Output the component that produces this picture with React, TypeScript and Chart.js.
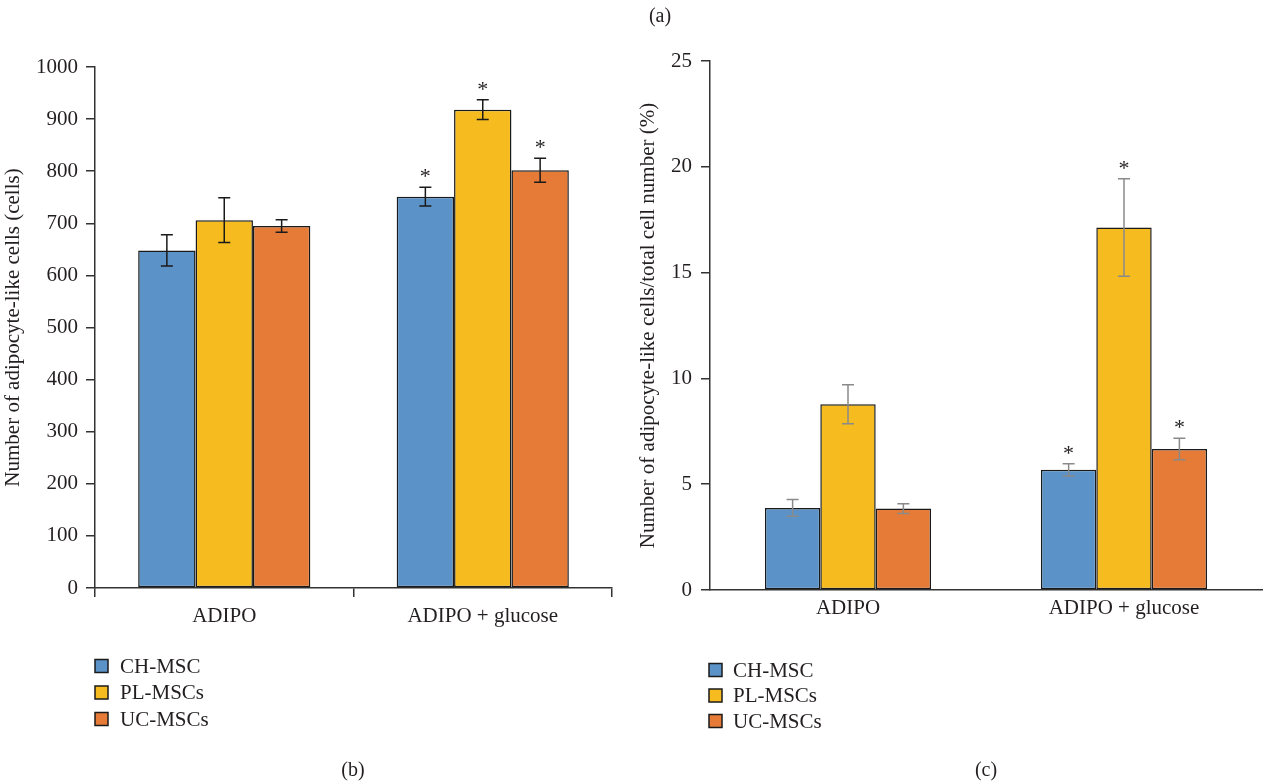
import React, { useEffect, useRef } from 'react';
import { Chart, registerables } from 'chart.js';

Chart.register(...registerables);

// ---------- data ----------
const categories = ['ADIPO', 'ADIPO + glucose'];
const seriesLabels = ['CH-MSC', 'PL-MSCs', 'UC-MSCs'];
const seriesColors = ['#5b93c9', '#f5bb1f', '#e57b37'];

// (b) number of adipocyte-like cells
const countCH = [648, 751];
const countPL = [706, 918];
const countUC = [695, 802];
const countErrCH = [30, 18];
const countErrPL = [43, 19];
const countErrUC = [12, 23];
const countSigCH = [false, true];
const countSigPL = [false, true];
const countSigUC = [false, true];

// (c) percentage of adipocyte-like cells
const pctCH = [3.88, 5.68];
const pctPL = [8.78, 17.13];
const pctUC = [3.85, 6.66];
const pctErrCH = [0.4, 0.29];
const pctErrPL = [0.92, 2.3];
const pctErrUC = [0.23, 0.51];
const pctSigCH = [false, true];
const pctSigPL = [false, true];
const pctSigUC = [false, true];

const countTitle = 'Number of adipocyte-like cells (cells)';
const pctTitle = 'Number of adipocyte-like cells/total cell number (%)';
const panelTexts = ['(a)', '(b)', '(c)'];

const FONT = '"Liberation Serif", "Times New Roman", serif';
const TEXT = '#231f20';
const AXIS = '#333333';

const errorBarPlugin = {
  id: 'errorBars',
  afterDatasetsDraw(chart: any, _args: any, opts: any) {
    const { ctx } = chart;
    const yScale = chart.scales.y;
    chart.data.datasets.forEach((ds: any, di: number) => {
      const meta = chart.getDatasetMeta(di);
      meta.data.forEach((bar: any, i: number) => {
        const v = ds.data[i];
        const e = ds.errors[i];
        const x = bar.x;
        const yt = yScale.getPixelForValue(v + e);
        const yb = yScale.getPixelForValue(v - e);
        ctx.save();
        ctx.strokeStyle = opts.color;
        ctx.lineWidth = opts.lineWidth;
        ctx.beginPath();
        ctx.moveTo(x, yt);
        ctx.lineTo(x, yb);
        ctx.moveTo(x - opts.cap, yt);
        ctx.lineTo(x + opts.cap, yt);
        ctx.moveTo(x - opts.cap, yb);
        ctx.lineTo(x + opts.cap, yb);
        ctx.stroke();
        if (ds.sig[i]) {
          ctx.fillStyle = TEXT;
          ctx.font = `22px ${FONT}`;
          ctx.textAlign = 'center';
          ctx.textBaseline = 'alphabetic';
          ctx.fillText('*', x, yt - opts.starGap);
        }
        ctx.restore();
      });
    });
  },
};

const boxLegendPlugin = {
  id: 'boxLegend',
  afterDraw(chart: any, _args: any, opts: any) {
    const { ctx } = chart;
    chart.data.datasets.forEach((ds: any, i: number) => {
      const cy = opts.y + i * opts.rowGap;
      ctx.save();
      ctx.fillStyle = ds.backgroundColor;
      ctx.strokeStyle = '#1a1a1a';
      ctx.lineWidth = 1.5;
      ctx.fillRect(opts.x, cy - opts.box / 2, opts.box, opts.box);
      ctx.strokeRect(opts.x, cy - opts.box / 2, opts.box, opts.box);
      ctx.fillStyle = TEXT;
      ctx.font = `21px ${FONT}`;
      ctx.textAlign = 'left';
      ctx.textBaseline = 'middle';
      ctx.fillText(ds.label, opts.textX, cy + 1);
      ctx.restore();
    });
  },
};

function makeDatasets(values: number[][], errs: number[][], sigs: boolean[][], borderColor: string) {
  return values.map((v, i) => ({
    label: seriesLabels[i],
    data: v,
    errors: errs[i],
    sig: sigs[i],
    backgroundColor: seriesColors[i],
    borderColor,
    borderWidth: 1.5,
    borderSkipped: false as any,
  }));
}

const plainTick = (v: any) => String(v);

function CountChart() {
  const ref = useRef<HTMLCanvasElement>(null);
  useEffect(() => {
    const chart = new Chart(ref.current!, {
      type: 'bar',
      data: {
        labels: categories,
        datasets: makeDatasets(
          [countCH, countPL, countUC],
          [countErrCH, countErrPL, countErrUC],
          [countSigCH, countSigPL, countSigUC],
          '#1a1a1a'
        ) as any,
      },
      options: {
        animation: false,
        responsive: false,
        devicePixelRatio: 1,
        layout: { padding: { left: 0, right: 20, top: 67, bottom: 156 } },
        datasets: { bar: { barPercentage: 1, categoryPercentage: 0.666 } },
        plugins: {
          legend: { display: false },
          tooltip: { enabled: false },
          errorBars: { color: '#1a1a1a', lineWidth: 1.5, cap: 6, starGap: 4 },
          boxLegend: { x: 95, y: 666, rowGap: 26.5, box: 13, textX: 120 },
        } as any,
        scales: {
          x: {
            afterFit: (s: any) => { s.height = 40; },
            grid: { offset: true, drawOnChartArea: false, color: AXIS, lineWidth: 1.5, tickLength: 9 },
            border: { color: AXIS, width: 1.5 },
            ticks: { color: TEXT, font: { family: FONT, size: 21 }, padding: 7 },
          },
          y: {
            min: 0,
            max: 1000,
            afterFit: (s: any) => { s.width = 95; },
            ticks: { stepSize: 100, color: TEXT, font: { family: FONT, size: 21 }, padding: 8, callback: plainTick },
            grid: { drawOnChartArea: false, color: AXIS, lineWidth: 1.5, tickLength: 9 },
            border: { color: AXIS, width: 1.5 },
            title: {
              display: true,
              text: countTitle,
              color: TEXT,
              font: { family: FONT, size: 21 },
              padding: { top: 1, bottom: 0 },
            },
          },
        },
      },
      plugins: [errorBarPlugin, boxLegendPlugin],
    });
    return () => chart.destroy();
  }, []);
  return <canvas ref={ref} width={632} height={784} style={{ position: 'absolute', left: 0, top: 0 }} />;
}

function PctChart() {
  const ref = useRef<HTMLCanvasElement>(null);
  useEffect(() => {
    const chart = new Chart(ref.current!, {
      type: 'bar',
      data: {
        labels: categories,
        datasets: makeDatasets(
          [pctCH, pctPL, pctUC],
          [pctErrCH, pctErrPL, pctErrUC],
          [pctSigCH, pctSigPL, pctSigUC],
          '#1a1a1a'
        ) as any,
      },
      options: {
        animation: false,
        responsive: false,
        devicePixelRatio: 1,
        layout: { padding: { left: 0, right: 4, top: 61, bottom: 154 } },
        datasets: { bar: { barPercentage: 1, categoryPercentage: 0.602 } },
        plugins: {
          legend: { display: false },
          tooltip: { enabled: false },
          errorBars: { color: '#8a8a8a', lineWidth: 1.5, cap: 6, starGap: 4 },
          boxLegend: { x: 77, y: 670, rowGap: 25.5, box: 13, textX: 101 },
        } as any,
        scales: {
          x: {
            afterFit: (s: any) => { s.height = 40; },
            grid: { display: false, drawTicks: false },
            border: { display: true, color: AXIS, width: 1.5 },
            ticks: { color: TEXT, font: { family: FONT, size: 21 }, padding: 6 },
          },
          y: {
            min: 0,
            max: 25,
            afterFit: (s: any) => { s.width = 78; },
            ticks: { stepSize: 5, color: TEXT, font: { family: FONT, size: 21 }, padding: 9, callback: plainTick },
            grid: { drawOnChartArea: false, color: AXIS, lineWidth: 1.5, tickLength: 9 },
            border: { color: AXIS, width: 1.5 },
            title: {
              display: true,
              text: pctTitle,
              color: TEXT,
              font: { family: FONT, size: 21 },
              padding: { top: 4, bottom: 0 },
            },
          },
        },
      },
      plugins: [errorBarPlugin, boxLegendPlugin],
    });
    return () => chart.destroy();
  }, []);
  return <canvas ref={ref} width={634} height={784} style={{ position: 'absolute', left: 632, top: 0 }} />;
}

const panelLabel = (text: string, cx: number, cy: number) => (
  <div
    key={text}
    style={{
      position: 'absolute',
      left: cx - 30,
      top: cy - 12,
      width: 60,
      height: 24,
      lineHeight: '24px',
      textAlign: 'center',
      fontFamily: FONT,
      fontSize: 20,
      color: TEXT,
    }}
  >
    {text}
  </div>
);

export default function App() {
  return (
    <div style={{ position: 'absolute', left: 0, top: 0, width: 1266, height: 784, background: '#fff', overflow: 'hidden' }}>
      <CountChart />
      <PctChart />
      {panelLabel(panelTexts[0], 660, 15)}
      {panelLabel(panelTexts[1], 353, 769)}
      {panelLabel(panelTexts[2], 986, 769)}
    </div>
  );
}
